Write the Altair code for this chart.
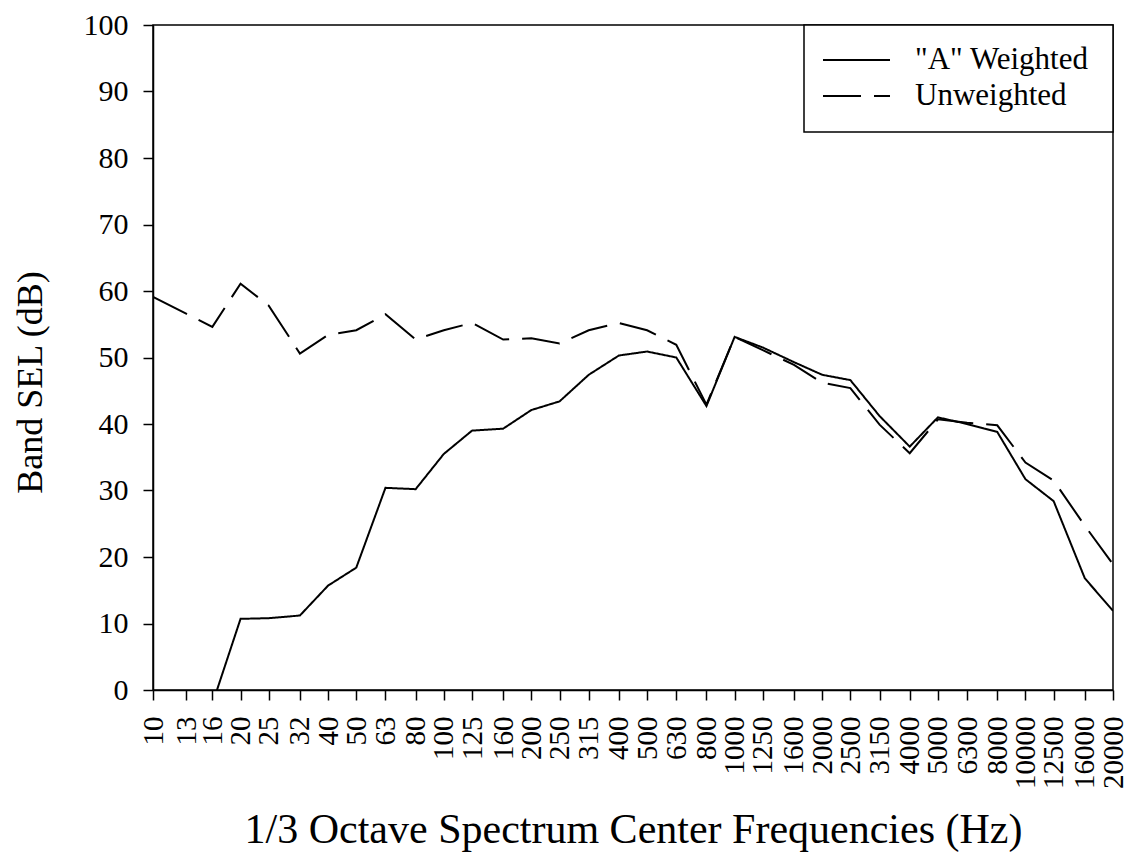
import altair as alt
import pandas as pd

freqs = [10, 13, 16, 20, 25, 32, 40, 50, 63, 80, 100, 125, 160, 200, 250, 315,
         400, 500, 630, 800, 1000, 1250, 1600, 2000, 2500, 3150, 4000, 5000,
         6300, 8000, 10000, 12500, 16000, 20000]

a_weighted = [None, None, -2.1, 10.7, 10.8, 11.2, 15.7, 18.4, 30.4, 30.2, 35.5,
              39.0, 39.3, 42.1, 43.4, 47.4, 50.3, 50.9, 50.0, 42.7, 53.1, 51.5,
              49.3, 47.4, 46.6, 41.2, 36.6, 41.0, 40.0, 38.8, 31.7, 28.4, 16.8, 11.9]

unweighted = [59.1, 56.6, 54.6, 61.1, 57.8, 50.6, 53.4, 54.1, 56.5, 52.7, 54.1,
              55.2, 52.7, 52.9, 52.1, 54.1, 55.2, 54.1, 51.9, 42.9, 53.1, 51.1,
              48.9, 46.2, 45.4, 39.9, 35.6, 40.7, 40.2, 39.8, 34.2, 31.5, 24.7, 18.9]

series_names = ['"A" Weighted', 'Unweighted']
series_dashes = [[1, 0], [38, 13]]
y_ticks = [0, 10, 20, 30, 40, 50, 60, 70, 80, 90, 100]

rows = []
for f, a, u in zip(freqs, a_weighted, unweighted):
    if a is not None:
        rows.append({"freq": f, "level": a, "series": series_names[0]})
    rows.append({"freq": f, "level": u, "series": series_names[1]})
df = pd.DataFrame(rows)

FONT = "Liberation Serif"
W, H = 960, 665

lines = alt.Chart(df).mark_line(clip=True, strokeWidth=2, color="black").encode(
    x=alt.X(
        "freq:Q",
        scale=alt.Scale(type="log", domain=[10, 20000], nice=False),
        axis=alt.Axis(
            values=freqs, format="d", labelAngle=270, labelAlign="right",
            labelBaseline="middle", title="1/3 Octave Spectrum Center Frequencies (Hz)",
            grid=False, tickSize=10, labelFontSize=29, titleFontSize=42,
            labelPadding=16, titlePadding=21, labelOverlap=False, labelFlush=False,
        ),
    ),
    y=alt.Y(
        "level:Q",
        scale=alt.Scale(domain=[0, 100], nice=False),
        axis=alt.Axis(
            values=y_ticks, title="Band SEL (dB)", grid=False, tickSize=10,
            labelFontSize=30, titleFontSize=36, labelPadding=15, titlePadding=34,
            titleY=357,
        ),
    ),
    strokeDash=alt.StrokeDash(
        "series:N",
        scale=alt.Scale(domain=series_names, range=series_dashes),
        legend=None,
    ),
)

# legend drawn as its own small layers (box, symbols, labels)
legend_df = pd.DataFrame({"series": series_names})

box = alt.Chart(legend_df.head(1)).mark_rect(
    fill="white", stroke="black", strokeWidth=1.5
).encode(
    x=alt.value(651), x2=alt.value(W), y=alt.value(0), y2=alt.value(107)
)

legend_layers = [box]
for i, (name, dash) in enumerate(zip(series_names, series_dashes)):
    sub = legend_df[legend_df["series"] == name]
    ypos = 35 + 36 * i
    legend_layers.append(
        alt.Chart(sub).mark_rule(strokeWidth=2, color="black", strokeDash=dash).encode(
            x=alt.value(670), x2=alt.value(737), y=alt.value(ypos)
        )
    )
    legend_layers.append(
        alt.Chart(sub).mark_text(
            align="left", baseline="middle", font=FONT, fontSize=31, color="black"
        ).encode(
            text="series:N", x=alt.value(762), y=alt.value(ypos)
        )
    )

chart = alt.layer(lines, *legend_layers).properties(
    width=W,
    height=H,
    autosize=alt.AutoSizeParams(type="none"),
    padding={"left": 145, "top": 17, "right": 18, "bottom": 164},
).configure_view(
    stroke="black", strokeWidth=1.5
).configure_axis(
    labelFont=FONT, titleFont=FONT, titleFontWeight="normal",
    labelColor="black", titleColor="black", domainColor="black",
    tickColor="black", domainWidth=1.5, tickWidth=1.5,
)

chart.save("out.html", embed_options={"renderer": "svg", "actions": False})
